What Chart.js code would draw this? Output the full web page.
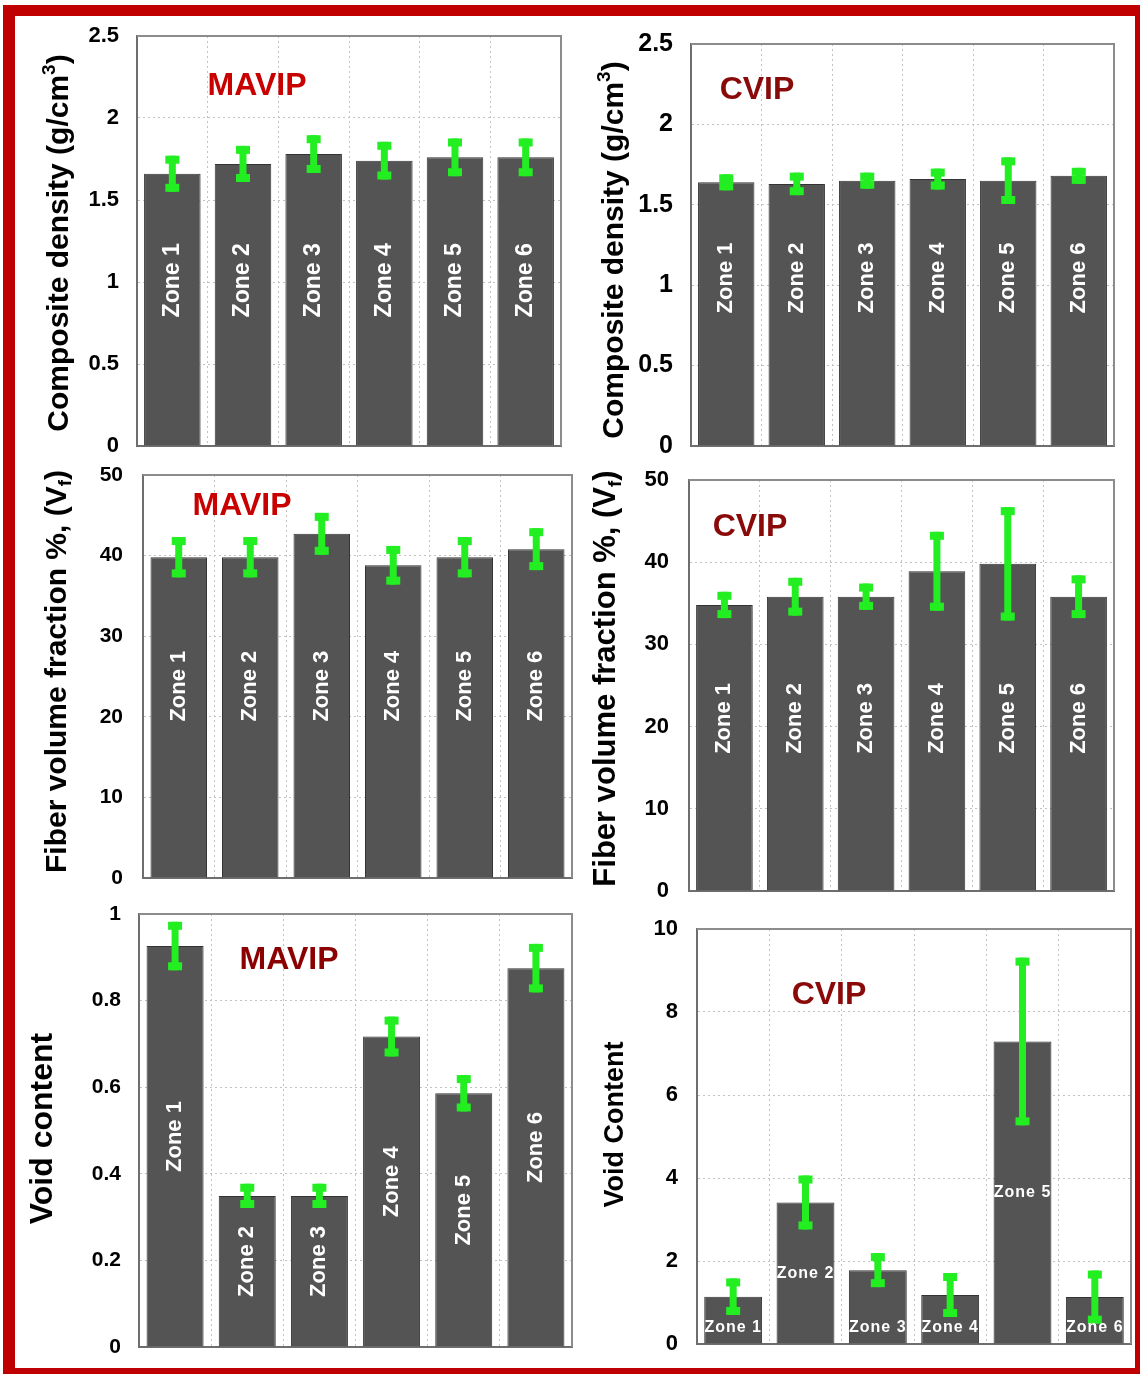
<!DOCTYPE html>
<html><head><meta charset="utf-8">
<script src="https://cdn.jsdelivr.net/npm/chart.js@4/dist/chart.umd.min.js"></script>
<style>
html,body{margin:0;padding:0;background:#fff;}
body{width:1140px;height:1374px;position:relative;overflow:hidden;}
#frame{position:absolute;left:3px;top:5px;width:1120px;height:1352px;border-style:solid;border-color:#c00000;border-width:11px 5px 6px 12px;}
canvas{position:absolute;}
</style></head><body>
<div id="frame"></div>
<canvas id="c1"></canvas><canvas id="c2"></canvas><canvas id="c3"></canvas>
<canvas id="c4"></canvas><canvas id="c5"></canvas><canvas id="c6"></canvas>
<script>
// ---------- data ----------
const zones = ['Zone 1','Zone 2','Zone 3','Zone 4','Zone 5','Zone 6'];

const densityMAVIP    = [1.66, 1.72, 1.78, 1.74, 1.76, 1.76];
const densityMAVIPErr = [0.11, 0.11, 0.115, 0.115, 0.115, 0.115];
const densityCVIP     = [1.64, 1.63, 1.65, 1.66, 1.65, 1.68];
const densityCVIPErr  = [0.05, 0.07, 0.05, 0.065, 0.145, 0.05];

const fiberMAVIP      = [39.8, 39.8, 42.7, 38.8, 39.8, 40.8];
const fiberMAVIPErr   = [2.5, 2.5, 2.6, 2.4, 2.5, 2.6];
const fiberCVIP       = [34.8, 35.8, 35.8, 38.9, 39.8, 35.8];
const fiberCVIPErr    = [1.6, 2.3, 1.6, 4.8, 6.9, 2.6];

const voidMAVIP       = [0.926, 0.349, 0.349, 0.717, 0.586, 0.875];
const voidMAVIPErr    = [0.056, 0.028, 0.028, 0.046, 0.042, 0.056];
const voidCVIP        = [1.14, 3.41, 1.78, 1.18, 7.29, 1.13];
const voidCVIPErr     = [0.44, 0.65, 0.41, 0.53, 2.02, 0.64];

const densityTicks = {min:0, max:2.5, step:0.5};
const fiberTicks   = {min:0, max:50,  step:10};
const voidMTicks   = {min:0, max:1,   step:0.2};
const voidCTicks   = {min:0, max:10,  step:2};

const titleDensity = [{t:'Composite density (g/cm'},{t:'3',sup:true},{t:')'}];
const titleFiber   = [{t:'Fiber volume fraction %, (V'},{t:'f',sub:true},{t:')'}];
const titleVoidM   = [{t:'Void content'}];
const titleVoidC   = [{t:'Void Content'}];

// ---------- drawing ----------
const FONT = "'Liberation Sans', Arial, Helvetica, sans-serif";
const YW = 120, PT = 20, PR = 8, PB = 10;
const GREEN = '#22ee22';

function richVertical(ctx, segs, cx, cy, size) {
  ctx.save();
  ctx.translate(cx, cy);
  ctx.rotate(-Math.PI / 2);
  const main = `bold ${size}px ${FONT}`;
  const small = `bold ${Math.round(size * 0.62)}px ${FONT}`;
  const widths = segs.map(s => { ctx.font = (s.sup || s.sub) ? small : main; return ctx.measureText(s.t).width; });
  const total = widths.reduce((a, b) => a + b, 0);
  let x = -total / 2;
  ctx.fillStyle = '#000';
  ctx.textBaseline = 'alphabetic';
  ctx.textAlign = 'left';
  const base = size * 0.36;
  segs.forEach((s, i) => {
    ctx.font = (s.sup || s.sub) ? small : main;
    const y = base + (s.sup ? -size * 0.42 : s.sub ? size * 0.18 : 0);
    ctx.fillText(s.t, x, y);
    x += widths[i];
  });
  ctx.restore();
}

const panelPlugin = {
  id: 'panelDeco',
  afterDatasetsDraw(chart) {
    const o = chart.options.plugins.panelDeco;
    const ctx = chart.ctx;
    const ca = chart.chartArea;
    const ys = chart.scales.y;
    const meta = chart.getDatasetMeta(0);
    const vals = chart.data.datasets[0].data;
    // frame top & right
    ctx.save();
    ctx.strokeStyle = '#8c8c8c';
    ctx.lineWidth = 2;
    ctx.beginPath();
    ctx.moveTo(ca.left, ca.top); ctx.lineTo(ca.right, ca.top); ctx.lineTo(ca.right, ca.bottom);
    ctx.stroke();
    ctx.restore();
    // error bars
    ctx.save();
    ctx.fillStyle = GREEN;
    meta.data.forEach((bar, i) => {
      const v = vals[i], e = o.errors[i];
      const yt = ys.getPixelForValue(v + e), yb = ys.getPixelForValue(v - e);
      const x = bar.x;
      ctx.fillRect(x - 3.5, yt, 7, yb - yt);
      ctx.fillRect(x - 7, yt, 14, 8);
      ctx.fillRect(x - 7, yb - 8, 14, 8);
    });
    ctx.restore();
    // zone labels
    ctx.save();
    ctx.fillStyle = '#ffffff';
    meta.data.forEach((bar, i) => {
      const v = vals[i];
      if (o.labelMode === 'horizontal') {
        ctx.font = `bold 16px ${FONT}`;
        try { ctx.letterSpacing = '1px'; } catch (err) {}
        ctx.textAlign = 'center';
        ctx.textBaseline = 'middle';
        const y = v > 3 ? ys.getPixelForValue(v / 2) : ca.bottom - 16;
        ctx.fillText(chart.data.labels[i], bar.x, y);
      } else {
        let y;
        if (o.labelMode === 'center') y = ys.getPixelForValue(v / 2) - 10;
        else y = ys.getPixelForValue(o.labelAt);
        ctx.save();
        ctx.translate(bar.x, y);
        ctx.rotate(-Math.PI / 2);
        ctx.font = `bold ${o.labelSize}px ${FONT}`;
        ctx.textAlign = 'center';
        ctx.textBaseline = 'middle';
        ctx.fillText(chart.data.labels[i], 0, 0);
        ctx.restore();
      }
    });
    ctx.restore();
    // process name
    ctx.save();
    ctx.font = `bold 32px ${FONT}`;
    ctx.fillStyle = o.nameColor;
    ctx.textAlign = 'center';
    ctx.textBaseline = 'middle';
    ctx.fillText(o.name, ca.left + o.nameDX, ca.top + o.nameDY);
    ctx.restore();
    // y title
    richVertical(ctx, o.yTitle, ca.left + o.titleDX, (ca.top + ca.bottom) / 2 + o.titleDY, o.titleSize);
  }
};

function makePanel(id, box, values, errors, ticks, opts) {
  const cv = document.getElementById(id);
  const w = box[2] - box[0] + YW + PR;
  const h = box[3] - box[1] + PT + PB;
  cv.width = w; cv.height = h;
  cv.style.left = (box[0] - YW) + 'px';
  cv.style.top = (box[1] - PT) + 'px';
  cv.style.width = w + 'px'; cv.style.height = h + 'px';
  return new Chart(cv, {
    type: 'bar',
    data: {
      labels: zones,
      datasets: [{
        data: values,
        backgroundColor: '#545454',
        borderColor: '#333333',
        borderWidth: 1,
        barPercentage: opts.bp || 0.8,
        categoryPercentage: 1
      }]
    },
    options: {
      responsive: false,
      animation: false,
      devicePixelRatio: 1,
      layout: {padding: {left: 0, top: PT, right: PR, bottom: PB}},
      plugins: {
        legend: {display: false},
        tooltip: {enabled: false},
        panelDeco: Object.assign({errors: errors}, opts)
      },
      scales: {
        x: {
          ticks: {display: false},
          grid: {offset: true, drawTicks: false, color: '#c2c2c2', lineWidth: 1},
          border: {display: true, color: '#6e6e6e', width: 2, dash: [2, 3]},
          afterFit(s) { s.height = 0; s.paddingLeft = 0; s.paddingRight = 0; s.paddingTop = 0; s.paddingBottom = 0; }
        },
        y: {
          min: ticks.min, max: ticks.max,
          ticks: {stepSize: ticks.step, padding: opts.tickPad, color: '#000',
                  font: {family: FONT, size: opts.tickSize, weight: 'bold'},
                  callback: v => String(+Number(v).toFixed(2))},
          grid: {drawTicks: false, color: '#c2c2c2', lineWidth: 1},
          border: {display: true, color: '#6e6e6e', width: 2, dash: [2, 3]},
          afterFit(s) { s.width = YW; s.paddingTop = 0; s.paddingBottom = 0; s.paddingLeft = 0; s.paddingRight = 0; }
        }
      }
    },
    plugins: [panelPlugin]
  });
}

const RED = '#c80000', DARKRED = '#8a0a0a';

makePanel('c1', [137, 36, 561, 446], densityMAVIP, densityMAVIPErr, densityTicks,
  {tickSize: 22, tickPad: 18, labelMode: 'fixed', labelAt: 1.01, labelSize: 23,
   name: 'MAVIP', nameColor: RED, nameDX: 120, nameDY: 50,
   yTitle: titleDensity, titleSize: 30, titleDX: -80, titleDY: 2});

makePanel('c2', [691, 44, 1114, 446], densityCVIP, densityCVIPErr, densityTicks,
  {tickSize: 25, tickPad: 18, labelMode: 'fixed', labelAt: 1.045, labelSize: 22,
   name: 'CVIP', nameColor: DARKRED, nameDX: 66, nameDY: 46,
   yTitle: titleDensity, titleSize: 30, titleDX: -79, titleDY: 5});

makePanel('c3', [143, 475, 572, 878], fiberMAVIP, fiberMAVIPErr, fiberTicks,
  {tickSize: 21, tickPad: 20, labelMode: 'fixed', labelAt: 23.8, labelSize: 22, bp: 0.79,
   name: 'MAVIP', nameColor: RED, nameDX: 99, nameDY: 31,
   yTitle: titleFiber, titleSize: 30, titleDX: -88, titleDY: -5});

makePanel('c4', [689, 480, 1114, 891], fiberCVIP, fiberCVIPErr, fiberTicks,
  {tickSize: 22, tickPad: 20, labelMode: 'fixed', labelAt: 21.0, labelSize: 22,
   name: 'CVIP', nameColor: DARKRED, nameDX: 61, nameDY: 47,
   yTitle: titleFiber, titleSize: 31, titleDX: -85, titleDY: -7});

makePanel('c5', [139, 914, 572, 1347], voidMAVIP, voidMAVIPErr, voidMTicks,
  {tickSize: 21, tickPad: 18, labelMode: 'center', labelSize: 22, bp: 0.79,
   name: 'MAVIP', nameColor: '#8b0000', nameDX: 150, nameDY: 46,
   yTitle: titleVoidM, titleSize: 32, titleDX: -99, titleDY: -2});

makePanel('c6', [697, 929, 1131, 1344], voidCVIP, voidCVIPErr, voidCTicks,
  {tickSize: 22, tickPad: 19, labelMode: 'horizontal', labelSize: 16,
   name: 'CVIP', nameColor: DARKRED, nameDX: 132, nameDY: 66,
   yTitle: titleVoidC, titleSize: 27, titleDX: -84, titleDY: -12});
</script>
</body></html>
